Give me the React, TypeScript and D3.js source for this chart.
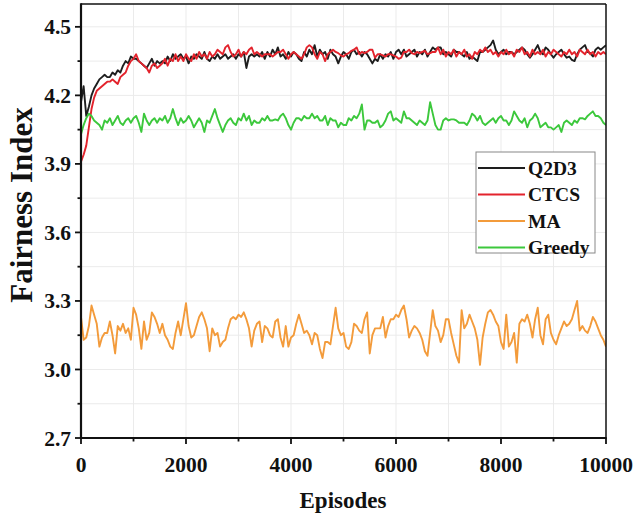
import React from "react";
import * as d3 from "d3";

const seriesNames = ["Q2D3", "CTCS", "MA", "Greedy"];
const seriesColors = ["#1e1e1e", "#e3232c", "#f39b3b", "#3cc83c"];
const episodeStep = 50;

const q2d3 = [
  4.17, 4.24, 4.11, 4.15, 4.20, 4.23, 4.25, 4.27, 4.28, 4.29, 4.28, 4.28, 4.30, 4.29, 4.31, 4.30, 4.33, 4.35, 4.34, 4.37, 4.36,
  4.36, 4.35, 4.34, 4.33, 4.32, 4.34, 4.36, 4.33, 4.35, 4.34, 4.35, 4.34, 4.37, 4.35, 4.38, 4.36, 4.37, 4.38, 4.36, 4.37,
  4.34, 4.37, 4.36, 4.38, 4.37, 4.36, 4.39, 4.36, 4.35, 4.37, 4.36, 4.38, 4.36, 4.37, 4.38, 4.36, 4.37, 4.38, 4.36, 4.38,
  4.37, 4.39, 4.32, 4.37, 4.38, 4.37,
  4.38, 4.37, 4.39, 4.36, 4.39, 4.37, 4.40, 4.38, 4.41, 4.37, 4.38, 4.36, 4.39, 4.37, 4.39, 4.38, 4.36, 4.35, 4.39, 4.37,
  4.40, 4.38, 4.42, 4.37, 4.40, 4.38, 4.39, 4.36, 4.40, 4.38, 4.37, 4.34, 4.37, 4.39, 4.38, 4.36, 4.39, 4.40, 4.38, 4.39,
  4.37, 4.39, 4.38, 4.36, 4.34, 4.36, 4.35, 4.38, 4.36, 4.38, 4.37, 4.39, 4.36, 4.39, 4.40, 4.38, 4.40, 4.37, 4.38, 4.39,
  4.40, 4.37, 4.39, 4.38, 4.40, 4.37, 4.39, 4.41,
  4.40, 4.41, 4.41, 4.38, 4.39, 4.38, 4.37, 4.40, 4.39, 4.39, 4.38, 4.37, 4.39, 4.36, 4.37, 4.36, 4.35, 4.39, 4.39, 4.40,
  4.41, 4.42, 4.44, 4.40, 4.38, 4.39, 4.40, 4.38, 4.39, 4.39, 4.38, 4.39, 4.40, 4.41, 4.40, 4.38, 4.365, 4.38, 4.40, 4.42,
  4.39, 4.38, 4.41, 4.40, 4.38, 4.365, 4.38, 4.39, 4.40, 4.38, 4.365, 4.37, 4.355, 4.35, 4.38, 4.40, 4.41, 4.42, 4.39, 4.385,
  4.37, 4.40, 4.41, 4.40, 4.41, 4.42,
];

const ctcs = [
  3.91, 3.94, 3.98, 4.06, 4.14, 4.19, 4.22, 4.23, 4.24, 4.25, 4.26, 4.26, 4.27, 4.26, 4.25, 4.28, 4.29, 4.30, 4.33, 4.35,
  4.36, 4.38, 4.35, 4.34, 4.33, 4.32, 4.30, 4.33, 4.34, 4.32, 4.33,
  4.34, 4.36, 4.33, 4.36, 4.35, 4.38, 4.35, 4.37, 4.35, 4.38, 4.36, 4.35, 4.38, 4.36, 4.39, 4.37, 4.38, 4.36, 4.39, 4.37,
  4.38, 4.40, 4.39, 4.38, 4.41, 4.42, 4.39, 4.37, 4.38, 4.40, 4.37, 4.39, 4.38, 4.40, 4.41, 4.38,
  4.39, 4.38, 4.37, 4.38, 4.38, 4.38, 4.37, 4.38, 4.39, 4.39, 4.40, 4.38, 4.36, 4.38, 4.39, 4.38, 4.37, 4.36, 4.38, 4.41,
  4.42, 4.41, 4.38, 4.36, 4.39, 4.38, 4.35, 4.38, 4.39, 4.40, 4.39, 4.385, 4.375, 4.37, 4.38, 4.385, 4.395, 4.40, 4.41, 4.38,
  4.39, 4.385, 4.39, 4.40, 4.40, 4.365, 4.38, 4.38, 4.375, 4.37, 4.38, 4.38, 4.375, 4.37, 4.36, 4.365, 4.39, 4.39, 4.40, 4.385,
  4.38, 4.39, 4.385, 4.39, 4.395, 4.38, 4.385, 4.39,
  4.39, 4.41, 4.38, 4.40, 4.37, 4.39, 4.38, 4.40, 4.37, 4.39, 4.38, 4.40, 4.37, 4.38, 4.36, 4.39, 4.38, 4.40, 4.39, 4.41,
  4.39, 4.40, 4.38, 4.39, 4.37, 4.39, 4.38, 4.40, 4.38, 4.39, 4.37, 4.40, 4.39, 4.41, 4.38, 4.39, 4.37, 4.40, 4.38, 4.39,
  4.38, 4.40, 4.37, 4.39, 4.38, 4.40, 4.39, 4.38, 4.37, 4.39, 4.38, 4.40, 4.38, 4.39, 4.37, 4.40, 4.39, 4.38, 4.40, 4.38,
  4.39, 4.37, 4.39, 4.38, 4.39, 4.38,
];

const ma = [
  3.23, 3.13, 3.14, 3.19, 3.28, 3.24, 3.20, 3.10, 3.14, 3.16, 3.16, 3.21, 3.15, 3.07, 3.19, 3.17, 3.20, 3.16, 3.18, 3.13,
  3.27, 3.24, 3.18, 3.09, 3.21, 3.13, 3.16, 3.25, 3.23, 3.20, 3.16, 3.20, 3.15, 3.13, 3.10, 3.09, 3.16, 3.21, 3.15, 3.22,
  3.29, 3.19, 3.14, 3.15, 3.19, 3.23, 3.25, 3.22, 3.18, 3.08, 3.18, 3.15, 3.16, 3.10, 3.12, 3.13, 3.18, 3.22, 3.23, 3.22,
  3.24, 3.23, 3.25, 3.22, 3.18, 3.10, 3.17,
  3.20, 3.21, 3.12, 3.19, 3.18, 3.15, 3.14, 3.21, 3.22, 3.14, 3.10, 3.19, 3.10, 3.14, 3.15, 3.20, 3.24, 3.20, 3.16, 3.17,
  3.15, 3.11, 3.16, 3.15, 3.09, 3.05, 3.12, 3.12, 3.11, 3.19, 3.27, 3.18, 3.15, 3.16, 3.10, 3.09, 3.12, 3.20, 3.19, 3.17,
  3.16, 3.22, 3.25, 3.07, 3.15, 3.18, 3.18, 3.18, 3.23, 3.14, 3.19, 3.22, 3.22, 3.24, 3.23, 3.26, 3.28, 3.22, 3.14, 3.17,
  3.19, 3.18, 3.16, 3.13, 3.08, 3.06, 3.16, 3.26,
  3.19, 3.17, 3.12, 3.15, 3.22, 3.22, 3.16, 3.11, 3.06, 3.03, 3.26, 3.18, 3.20, 3.24, 3.21, 3.18, 3.13, 3.02, 3.14, 3.20,
  3.25, 3.26, 3.24, 3.21, 3.19, 3.12, 3.09, 3.24, 3.10, 3.12, 3.16, 3.03, 3.20, 3.22, 3.21, 3.24, 3.20, 3.14, 3.22, 3.27,
  3.15, 3.11, 3.22, 3.24, 3.16, 3.13, 3.11, 3.15, 3.18, 3.21, 3.19, 3.20, 3.22, 3.26, 3.30, 3.17, 3.19, 3.17, 3.16, 3.19,
  3.23, 3.21, 3.18, 3.15, 3.13, 3.10,
];

const greedy = [
  4.03, 4.07, 4.10, 4.12, 4.11, 4.09, 4.08, 4.07, 4.05, 4.09, 4.08, 4.10, 4.07, 4.09, 4.11, 4.08, 4.07, 4.09, 4.10, 4.08,
  4.10, 4.11, 4.08, 4.04, 4.12, 4.09, 4.07, 4.09, 4.10, 4.08, 4.10, 4.09, 4.11, 4.08, 4.10, 4.14, 4.10, 4.07, 4.10, 4.08,
  4.09, 4.11, 4.09, 4.06, 4.08, 4.10, 4.08, 4.04, 4.09, 4.08, 4.11, 4.14, 4.10, 4.07, 4.04, 4.07, 4.09, 4.10, 4.08, 4.07,
  4.10, 4.09, 4.12, 4.09, 4.11, 4.07, 4.09,
  4.08, 4.08, 4.10, 4.09, 4.11, 4.09, 4.09, 4.095, 4.09, 4.11, 4.12, 4.10, 4.07, 4.05, 4.08, 4.10, 4.10, 4.09, 4.11, 4.10,
  4.10, 4.12, 4.10, 4.11, 4.09, 4.09, 4.11, 4.07, 4.10, 4.09, 4.09, 4.06, 4.08, 4.07, 4.07, 4.10, 4.09, 4.11, 4.10, 4.12,
  4.16, 4.05, 4.09, 4.09, 4.08, 4.08, 4.09, 4.06, 4.07, 4.09, 4.12, 4.13, 4.09, 4.10, 4.09, 4.08, 4.13, 4.10, 4.10, 4.09,
  4.08, 4.07, 4.09, 4.08, 4.07, 4.09, 4.17, 4.12,
  4.07, 4.05, 4.05, 4.09, 4.10, 4.09, 4.095, 4.095, 4.09, 4.08, 4.08, 4.08, 4.07, 4.09, 4.12, 4.11, 4.09, 4.11, 4.08, 4.07,
  4.08, 4.09, 4.10, 4.08, 4.10, 4.11, 4.09, 4.09, 4.07, 4.09, 4.13, 4.11, 4.09, 4.08, 4.10, 4.06, 4.09, 4.10, 4.12, 4.10,
  4.06, 4.07, 4.08, 4.06, 4.06, 4.05, 4.06, 4.07, 4.04, 4.08, 4.09, 4.08, 4.07, 4.09, 4.08, 4.10, 4.10, 4.095, 4.11, 4.12,
  4.13, 4.11, 4.11, 4.10, 4.08, 4.07,
];

const seriesValues = [q2d3, ctcs, ma, greedy];

const xTickValues = [0, 2000, 4000, 6000, 8000, 10000];
const xMinorValues = [1000, 3000, 5000, 7000, 9000];
const yTickValues = [2.7, 3.0, 3.3, 3.6, 3.9, 4.2, 4.5];
const yTickLabels = ["2.7", "3.0", "3.3", "3.6", "3.9", "4.2", "4.5"];
const yMinorValues = [2.85, 3.15, 3.45, 3.75, 4.05, 4.35];

const W = 641;
const H = 519;
const M = { left: 81, right: 606, top: 4, bottom: 438 };
const FONT = "'Liberation Serif', 'Times New Roman', serif";

export default function App() {
  const x = d3.scaleLinear().domain([0, 10000]).range([M.left, M.right]);
  const y = d3.scaleLinear().domain([2.7, 4.6]).range([M.bottom, M.top]);

  const line = d3
    .line<number>()
    .x((_, i) => x(i * episodeStep))
    .y((d) => y(d));

  const gridX = [...xTickValues, ...xMinorValues].filter((v) => v > 0 && v < 10000);
  const gridY = [...yTickValues, ...yMinorValues].filter((v) => v > 2.7);

  const legendX = 476;
  const legendY = 152;
  const legendRow = 26.5;

  return (
    <svg
      width={W}
      height={H}
      style={{ position: "absolute", left: 0, top: 0, background: "#fff" }}
      fontFamily={FONT}
    >
      <defs>
        <clipPath id="plotClip">
          <rect x={M.left} y={M.top} width={M.right - M.left} height={M.bottom - M.top} />
        </clipPath>
      </defs>
      <rect x={0} y={0} width={W} height={H} fill="#fff" />

      {/* grid */}
      <g stroke="#ebebeb" strokeWidth={1}>
        {gridX.map((v) => (
          <line key={"gx" + v} x1={x(v)} x2={x(v)} y1={M.top} y2={M.bottom} />
        ))}
        {gridY.map((v) => (
          <line key={"gy" + v} x1={M.left} x2={M.right} y1={y(v)} y2={y(v)} />
        ))}
      </g>

      {/* series */}
      <g clipPath="url(#plotClip)" fill="none" strokeLinejoin="round">
        {seriesValues.map((vals, i) => (
          <path key={seriesNames[i]} d={line(vals) || ""} stroke={seriesColors[i]} strokeWidth={1.9} />
        ))}
      </g>

      {/* frame */}
      <line x1={M.left} x2={M.right} y1={M.top} y2={M.top} stroke="#111" strokeWidth={1.5} />
      <line x1={M.right} x2={M.right} y1={M.top} y2={M.bottom} stroke="#111" strokeWidth={1.5} />
      <line x1={M.left} x2={M.left} y1={M.top - 0.75} y2={M.bottom + 1} stroke="#111" strokeWidth={2.2} />
      <line x1={M.left - 1} x2={M.right + 0.75} y1={M.bottom} y2={M.bottom} stroke="#111" strokeWidth={2.2} />

      {/* ticks */}
      <g stroke="#111" strokeWidth={1.8}>
        {yTickValues.map((v) => (
          <line key={"yt" + v} x1={M.left - 6} x2={M.left} y1={y(v)} y2={y(v)} />
        ))}
        {yMinorValues.map((v) => (
          <line key={"ym" + v} x1={M.left - 3.5} x2={M.left} y1={y(v)} y2={y(v)} />
        ))}
        {xTickValues.map((v) => (
          <line key={"xt" + v} x1={x(v)} x2={x(v)} y1={M.bottom} y2={M.bottom + 6} />
        ))}
        {xMinorValues.map((v) => (
          <line key={"xm" + v} x1={x(v)} x2={x(v)} y1={M.bottom} y2={M.bottom + 3.5} />
        ))}
      </g>

      {/* tick labels */}
      <g fontSize={21.5} fontWeight="bold" fill="#111">
        {yTickValues.map((v, i) => (
          <text key={"yl" + v} x={M.left - 10} y={y(v)} dy="0.35em" textAnchor="end">
            {yTickLabels[i]}
          </text>
        ))}
        {xTickValues.map((v) => (
          <text key={"xl" + v} x={x(v)} y={M.bottom + 34} textAnchor="middle">
            {String(v)}
          </text>
        ))}
      </g>

      {/* axis titles */}
      <text
        transform={`translate(32, 205) rotate(-90)`}
        textAnchor="middle"
        fontSize={31}
        fontWeight="bold"
        fill="#111"
      >
        Fairness Index
      </text>
      <text x={343} y={508} textAnchor="middle" fontSize={23} fontWeight="bold" fill="#111">
        Episodes
      </text>

      {/* legend */}
      <rect x={legendX} y={legendY} width={119} height={101} fill="#fff" stroke="#888" strokeWidth={1} />
      {seriesNames.map((name, i) => {
        const cy = legendY + 16 + i * legendRow;
        return (
          <g key={"lg" + name}>
            <line x1={legendX + 2} x2={legendX + 49} y1={cy} y2={cy} stroke={seriesColors[i]} strokeWidth={1.9} />
            <text x={legendX + 52} y={cy} dy="0.35em" fontSize={19.5} fontWeight="bold" fill="#111">
              {name}
            </text>
          </g>
        );
      })}
    </svg>
  );
}
